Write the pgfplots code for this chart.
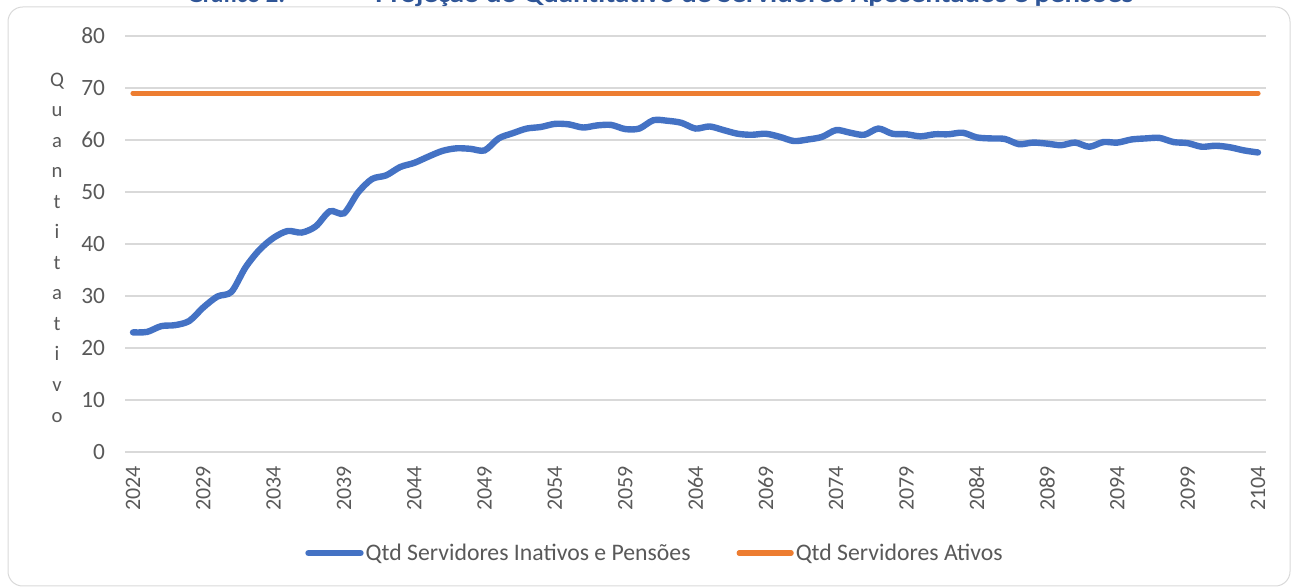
\documentclass[border=0pt]{standalone}
\usepackage{fontspec}
\setmainfont{Carlito}
\usepackage{pgfplots}
\pgfplotsset{compat=1.18}
\definecolor{cblue}{HTML}{4472C4}
\definecolor{corange}{HTML}{ED7D31}
\definecolor{ctext}{HTML}{595959}
\definecolor{cgrid}{HTML}{D9D9D9}
\definecolor{ctitle}{HTML}{2F5597}
\begin{document}
\begin{tikzpicture}
\path[use as bounding box] (0,0) rectangle (970.5pt,441pt);
\draw[cgrid, line width=0.75pt, rounded corners=11pt] (6pt,1.5pt) rectangle (967.5pt,435.75pt);
\node[anchor=base west, inner sep=0pt, text=ctitle, font=\fontsize{18.5}{22}\selectfont\bfseries] at (140.25pt,438.75pt) {Gráfico 2:};
\node[anchor=base west, inner sep=0pt, text=ctitle, font=\fontsize{18.5}{22}\selectfont\bfseries] at (281.25pt,438.75pt) {\scalebox{1.17}[1]{Projeção do Quantitativo de Servidores Aposentados e pensões}};
\begin{axis}[
  at={(93.75pt,102pt)}, anchor=south west,
  width=855.75pt, height=312pt, scale only axis,
  xmin=2023.43, xmax=2104.57, ymin=0, ymax=80,
  xtick={2024,2029,...,2104}, ytick={0,10,...,80},
  axis line style={draw=none},
  major tick style={draw=none},
  ymajorgrids=true,
  major grid style={draw=cgrid, line width=0.9pt},
  /pgf/number format/assume math mode=true,
  /pgf/number format/1000 sep={},
  xticklabel style={rotate=90, anchor=east, font=\fontsize{16.5}{19}\selectfont, text=ctext, xshift=-7pt},
  yticklabel style={font=\fontsize{17.5}{20}\selectfont, text=ctext, xshift=-11.5pt},
  ylabel={Q\\u\\a\\n\\t\\i\\t\\a\\t\\i\\v\\o},
  ylabel style={rotate=-90, at={(axis description cs:-0.0596,0.4916)}, anchor=center, align=center, font=\fontsize{15.5}{22.9}\selectfont, text=ctext},
  legend columns=2,
  legend style={draw=none, at={(axis description cs:0.4645,-0.243)}, anchor=center,
    font=\fontsize{17.8}{20}\selectfont, text=ctext,
    nodes={inner xsep=1.5pt},
    /tikz/every even column/.append style={column sep=33pt}},
  legend image code/.code={\draw[#1, line cap=round] (0pt,0pt) -- (39pt,0pt);},
]
\addplot[cblue, line width=4.8pt, smooth, tension=0.5, line cap=round] coordinates {
(2024,23.0) (2025,23.1) (2026,24.2) (2027,24.4) (2028,25.2) (2029,27.8) (2030,29.9)
(2031,30.8) (2032,35.5) (2033,38.9) (2034,41.2) (2035,42.5) (2036,42.2) (2037,43.4)
(2038,46.3) (2039,45.9) (2040,49.9) (2041,52.5) (2042,53.2) (2043,54.8) (2044,55.6)
(2045,56.8) (2046,57.9) (2047,58.4) (2048,58.3) (2049,58.0) (2050,60.3) (2051,61.3)
(2052,62.2) (2053,62.5) (2054,63.1) (2055,63.0) (2056,62.4) (2057,62.8) (2058,62.9)
(2059,62.1) (2060,62.2) (2061,63.8) (2062,63.7) (2063,63.3) (2064,62.2) (2065,62.6)
(2066,61.9) (2067,61.2) (2068,61.0) (2069,61.2) (2070,60.6) (2071,59.8) (2072,60.1)
(2073,60.6) (2074,61.9) (2075,61.4) (2076,61.0) (2077,62.2) (2078,61.2) (2079,61.1)
(2080,60.7) (2081,61.1) (2082,61.1) (2083,61.4) (2084,60.5) (2085,60.3) (2086,60.2)
(2087,59.2) (2088,59.5) (2089,59.3) (2090,59.0) (2091,59.5) (2092,58.7) (2093,59.6)
(2094,59.5) (2095,60.1) (2096,60.3) (2097,60.4) (2098,59.6) (2099,59.4) (2100,58.7)
(2101,58.9) (2102,58.6) (2103,58.0) (2104,57.6)
};
\addlegendentry{Qtd Servidores Inativos e Pensões}
\addplot[corange, line width=3.9pt, line cap=round] coordinates {(2024,69) (2104,69)};
\addlegendentry{Qtd Servidores Ativos}
\end{axis}
\end{tikzpicture}
\end{document}
